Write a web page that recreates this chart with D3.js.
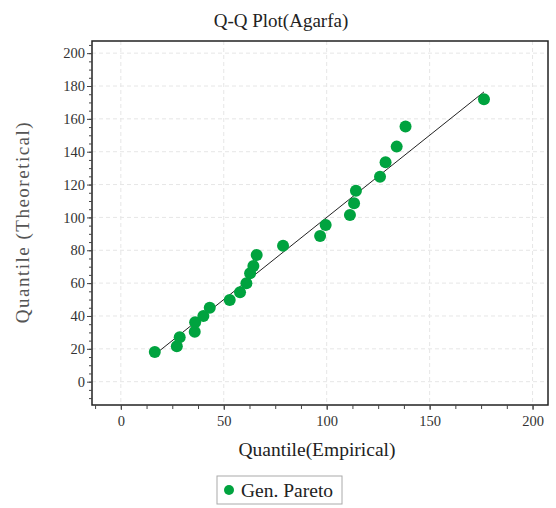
<!DOCTYPE html>
<html>
<head>
<meta charset="utf-8">
<script src="https://cdn.jsdelivr.net/npm/d3@7"></script>
<style>
  body { margin: 0; background: #fff; }
  text { font-family: "Liberation Serif", "DejaVu Serif", serif; }
</style>
</head>
<body>
<div id="chart"></div>
<script>
// Veriler: ampirik ve teorik kantiller
const empirical = [16.5, 27.2, 28.6, 35.9, 36.1, 40.1, 43.2, 52.9, 57.9, 61.0, 62.8, 64.4, 66.0,
                   78.8, 96.8, 99.5, 111.3, 113.3, 114.2, 125.9, 128.6, 134.0, 138.3, 176.4];
const theoretical = [18.1, 21.5, 27.0, 30.4, 36.2, 40.0, 45.0, 49.7, 54.4, 59.9, 66.0, 70.4, 77.1,
                     82.8, 88.7, 95.4, 101.5, 108.6, 116.3, 124.8, 133.6, 143.1, 155.3, 171.9];
const refLine = [16.5, 176.4];
const xTicks = [0, 50, 100, 150, 200];
const yTicks = [0, 20, 40, 60, 80, 100, 120, 140, 160, 180, 200];

const chartTitle = "Q-Q Plot(Agarfa)";
const xTitle = "Quantile(Empirical)";
const yTitle = "Quantile (Theoretical)";
const seriesName = "Gen. Pareto";
const dotColor = "#00a33f";

const width = 556, height = 508;
const plot = { left: 92, top: 41, right: 548, bottom: 405 };

const svg = d3.select("#chart").append("svg")
    .attr("width", width)
    .attr("height", height);

const x = d3.scaleLinear().domain([-14, 207.5]).range([plot.left, plot.right]);
const y = d3.scaleLinear().domain([-14.2, 207.4]).range([plot.bottom, plot.top]);

// Izgara çizgileri
svg.append("g").selectAll("line").data(xTicks).join("line")
    .attr("x1", d => x(d)).attr("x2", d => x(d))
    .attr("y1", plot.top).attr("y2", plot.bottom)
    .attr("stroke", "#e6e6e6").attr("stroke-dasharray", "4,3");
svg.append("g").selectAll("line").data(yTicks).join("line")
    .attr("x1", plot.left).attr("x2", plot.right)
    .attr("y1", d => y(d)).attr("y2", d => y(d))
    .attr("stroke", "#e6e6e6").attr("stroke-dasharray", "4,3");

// Çerçeve
svg.append("rect")
    .attr("x", plot.left).attr("y", plot.top)
    .attr("width", plot.right - plot.left).attr("height", plot.bottom - plot.top)
    .attr("fill", "none").attr("stroke", "#222").attr("stroke-width", 1.5);

// Eksenler (küçük tikler + büyük tikler)
const xMinor = d3.range(-12.5, 207, 12.5);
svg.append("g")
    .attr("transform", `translate(0,${plot.bottom})`)
    .call(d3.axisBottom(x).tickValues(xMinor).tickSize(4).tickFormat(""))
    .call(g => g.select(".domain").remove())
    .call(g => g.selectAll("line").attr("stroke", "#444"));
svg.append("g")
    .attr("transform", `translate(0,${plot.bottom})`)
    .call(d3.axisBottom(x).tickValues(xTicks).tickSize(5).tickPadding(6))
    .call(g => g.select(".domain").remove())
    .call(g => g.selectAll("line").attr("stroke", "#444"))
    .call(g => g.selectAll("text").attr("font-size", 14.5).attr("fill", "#333")
        .style("font-family", "'Liberation Serif', serif"));

const yMinor = d3.range(-10, 207, 5);
svg.append("g")
    .attr("transform", `translate(${plot.left},0)`)
    .call(d3.axisLeft(y).tickValues(yMinor).tickSize(3).tickFormat(""))
    .call(g => g.select(".domain").remove())
    .call(g => g.selectAll("line").attr("stroke", "#444"));
svg.append("g")
    .attr("transform", `translate(${plot.left},0)`)
    .call(d3.axisLeft(y).tickValues(yTicks).tickSize(5).tickPadding(2))
    .call(g => g.select(".domain").remove())
    .call(g => g.selectAll("line").attr("stroke", "#444"))
    .call(g => g.selectAll("text").attr("font-size", 14.5).attr("fill", "#333")
        .style("font-family", "'Liberation Serif', serif"));

// Referans doğrusu y = x
svg.append("line")
    .attr("x1", x(refLine[0])).attr("y1", y(refLine[0]))
    .attr("x2", x(refLine[1])).attr("y2", y(refLine[1]))
    .attr("stroke", "#222").attr("stroke-width", 1);

// Noktalar
svg.append("g").selectAll("circle").data(empirical).join("circle")
    .attr("cx", d => x(d))
    .attr("cy", (d, i) => y(theoretical[i]))
    .attr("r", 6)
    .attr("fill", dotColor);

// Başlıklar
svg.append("text")
    .attr("x", 281).attr("y", 27)
    .attr("text-anchor", "middle")
    .attr("font-size", 19).attr("fill", "#222")
    .text(chartTitle);
svg.append("text")
    .attr("x", 317).attr("y", 456)
    .attr("text-anchor", "middle")
    .attr("font-size", 19.5).attr("fill", "#222")
    .text(xTitle);
svg.append("text")
    .attr("transform", `translate(29,222) rotate(-90)`)
    .attr("text-anchor", "middle")
    .attr("font-size", 19).attr("letter-spacing", 1.5).attr("fill", "#555")
    .text(yTitle);

// Lejant
const legend = svg.append("g");
legend.append("rect")
    .attr("x", 217).attr("y", 476)
    .attr("width", 125).attr("height", 28)
    .attr("fill", "#fff").attr("stroke", "#aaa");
legend.append("circle")
    .attr("cx", 229).attr("cy", 490).attr("r", 5)
    .attr("fill", dotColor);
legend.append("text")
    .attr("x", 241).attr("y", 497)
    .attr("font-size", 19.5).attr("fill", "#222")
    .text(seriesName);
</script>
</body>
</html>
